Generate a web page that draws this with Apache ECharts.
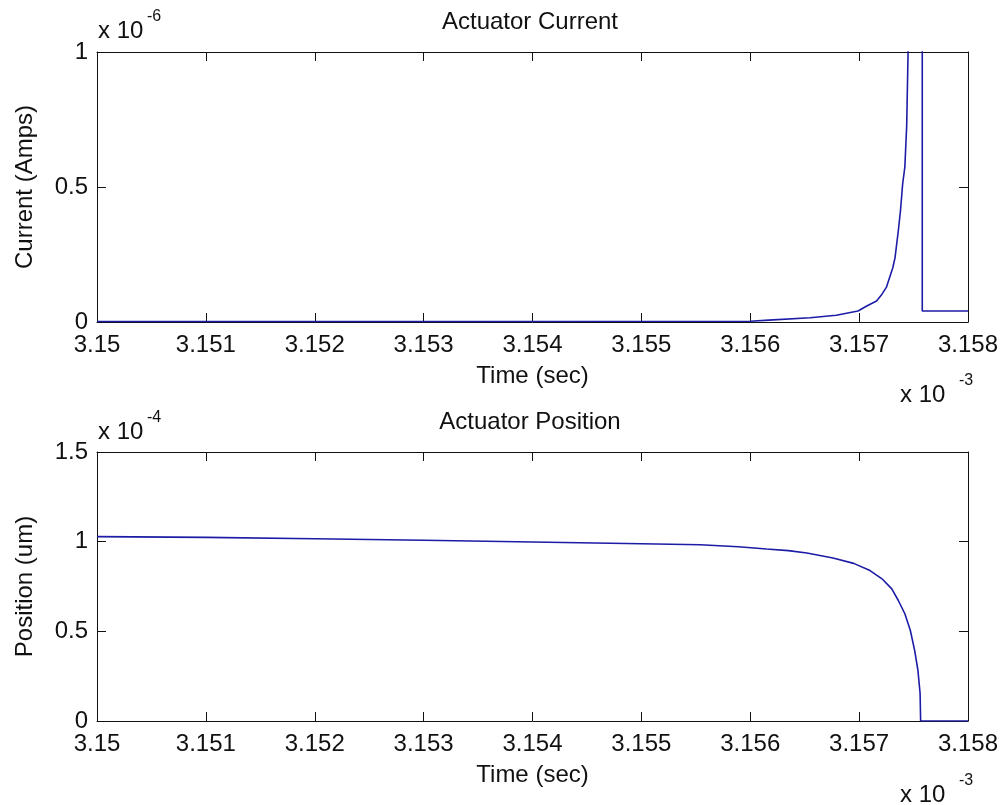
<!DOCTYPE html>
<html>
<head>
<meta charset="utf-8">
<title>Actuator</title>
<script src="https://cdn.jsdelivr.net/npm/echarts@6/dist/echarts.min.js"></script>
<style>
  html, body { margin: 0; padding: 0; background: #fff; }
  #main { width: 1003px; height: 805px; }
</style>
</head>
<body>
<div id="main"></div>
<script>
// time in units of 1e-3 sec, current in 1e-6 A, position in 1e-4
var currentTime = [3.1500, 3.1530, 3.1560, 3.15617, 3.15655, 3.15679, 3.15699, 3.15707, 3.15716, 3.15721,
    3.15725, 3.15728, 3.15731, 3.15733, 3.15736, 3.15738, 3.15740, 3.15742, 3.157437, 3.157452,
    3.157500, 3.157580, 3.157580, 3.158];
var currentAmps = [0.002, 0.002, 0.003, 0.007, 0.016, 0.025, 0.041, 0.059, 0.078, 0.103,
    0.128, 0.165, 0.202, 0.239, 0.338, 0.413, 0.512, 0.574, 0.729, 1.05,
    3.0, 3.0, 0.041, 0.041];

var posTime = [3.1500, 3.1510, 3.1520, 3.1530, 3.1540, 3.1550, 3.15554, 3.15589, 3.15615, 3.15635,
    3.15652, 3.15676, 3.15695, 3.15710, 3.15721, 3.15730, 3.15736, 3.15742, 3.15747, 3.15751,
    3.15754, 3.15756, 3.157565, 3.158];
var posUm = [1.028, 1.024, 1.016, 1.008, 0.998, 0.988, 0.983, 0.972, 0.959, 0.950,
    0.937, 0.909, 0.879, 0.839, 0.793, 0.737, 0.672, 0.598, 0.506, 0.394,
    0.283, 0.154, 0, 0];

var timeTicks = [3.150, 3.158, 0.001];   // min, max, step
var currentTicks = [0, 1, 0.5];
var posTicks = [0, 1.5, 0.5];

var titles = ['Actuator Current', 'Actuator Position'];
var yNames = ['Current (Amps)', 'Position (um)'];
var xName = 'Time (sec)';

window.onload = function () {
    var font = 'Liberation Sans, Arial, sans-serif';
    var black = '#111';

    function pair(xs, ys) {
        var out = [];
        for (var i = 0; i < xs.length; i++) out.push([xs[i], ys[i]]);
        return out;
    }

    function xAx(gi, pos, ticks, withLabel) {
        return {
            type: 'value', gridIndex: gi, position: pos,
            min: ticks[0], max: ticks[1], interval: ticks[2],
            name: withLabel ? xName : '', nameLocation: 'middle', nameGap: 42,
            nameTextStyle: { color: black, fontSize: 24, fontFamily: font },
            axisLine: { show: true, onZero: false, lineStyle: { color: black, width: 1 } },
            axisTick: { show: true, inside: true, length: 9, lineStyle: { color: black } },
            axisLabel: {
                show: withLabel, color: black, fontSize: 24, fontFamily: font, margin: 11,
                formatter: function (v) { return String(parseFloat(v.toFixed(3))); }
            },
            splitLine: { show: false }
        };
    }

    function yAx(gi, pos, ticks, name) {
        return {
            type: 'value', gridIndex: gi, position: pos,
            min: ticks[0], max: ticks[1], interval: ticks[2],
            name: name || '', nameLocation: 'middle', nameGap: 60,
            nameTextStyle: { color: black, fontSize: 24, fontFamily: font },
            axisLine: { show: true, onZero: false, lineStyle: { color: black, width: 1 } },
            axisTick: { show: true, inside: true, length: 9, lineStyle: { color: black } },
            axisLabel: {
                show: !!name, color: black, fontSize: 24, fontFamily: font, margin: 9,
                formatter: function (v) { return String(parseFloat(v.toFixed(2))); }
            },
            splitLine: { show: false }
        };
    }

    // y is the vertical middle of the text
    function txt(x, y, s, size, align) {
        return {
            type: 'text', x: x, y: y, silent: true,
            style: {
                text: s, fill: black, font: size + 'px ' + font,
                textAlign: align || 'left', textVerticalAlign: 'middle',
                align: align || 'left', verticalAlign: 'middle'
            }
        };
    }

    var option = {
        animation: false,
        backgroundColor: '#fff',
        grid: [
            { left: 97, top: 52, width: 871, height: 270 },
            { left: 97, top: 452, width: 871, height: 269 }
        ],
        xAxis: [
            xAx(0, 'bottom', timeTicks, true),
            xAx(0, 'top', timeTicks, false),
            xAx(1, 'bottom', timeTicks, true),
            xAx(1, 'top', timeTicks, false)
        ],
        yAxis: [
            yAx(0, 'left', currentTicks, yNames[0]),
            yAx(0, 'right', currentTicks, ''),
            yAx(1, 'left', posTicks, yNames[1]),
            yAx(1, 'right', posTicks, '')
        ],
        series: [
            {
                type: 'line', xAxisIndex: 0, yAxisIndex: 0, data: pair(currentTime, currentAmps),
                showSymbol: false, clip: true,
                lineStyle: { color: '#1c1ca6', width: 1.6 }
            },
            {
                type: 'line', xAxisIndex: 2, yAxisIndex: 2, data: pair(posTime, posUm),
                showSymbol: false, clip: true,
                lineStyle: { color: '#1c1ca6', width: 1.6 }
            }
        ],
        graphic: [
            txt(530, 22, titles[0], 24, 'center'),
            txt(530, 422, titles[1], 24, 'center'),
            txt(98, 31, 'x 10', 24), txt(147, 17, '-6', 16),
            txt(98, 432, 'x 10', 24), txt(147, 418, '-4', 16),
            txt(900, 395, 'x 10', 24), txt(959, 381, '-3', 16),
            txt(900, 795, 'x 10', 24), txt(959, 781, '-3', 16)
        ]
    };

    var myChart = echarts.init(document.getElementById('main'));
    myChart.setOption(option);
};
</script>
</body>
</html>
